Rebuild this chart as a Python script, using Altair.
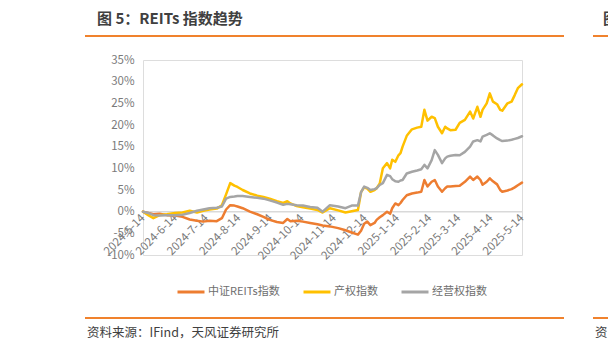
import altair as alt
import pandas as pd

# ---------------- data ----------------
dates = ["2024-05-14","2024-05-19","2024-05-24","2024-05-30","2024-06-06","2024-06-14","2024-06-21","2024-06-28","2024-07-05","2024-07-11",
         "2024-07-17","2024-07-24","2024-07-29","2024-08-02","2024-08-06","2024-08-10","2024-08-13","2024-08-18","2024-08-25","2024-09-01",
         "2024-09-07","2024-09-13","2024-09-20","2024-09-26","2024-09-30","2024-10-03","2024-10-09","2024-10-15","2024-10-22","2024-10-29",
         "2024-11-03","2024-11-10","2024-11-18","2024-11-25","2024-12-01","2024-12-07","2024-12-10","2024-12-13","2024-12-16","2024-12-19",
         "2024-12-23","2024-12-25","2024-12-28","2024-12-31","2025-01-04","2025-01-07","2025-01-09","2025-01-12","2025-01-15","2025-01-17",
         "2025-01-19","2025-01-23","2025-01-28","2025-02-02","2025-02-06","2025-02-09","2025-02-12","2025-02-16","2025-02-19","2025-02-22",
         "2025-02-26","2025-03-01","2025-03-03","2025-03-06","2025-03-11","2025-03-15","2025-03-20","2025-03-25","2025-03-28","2025-04-01",
         "2025-04-04","2025-04-06","2025-04-10","2025-04-13","2025-04-16","2025-04-20","2025-04-23","2025-04-25","2025-04-30","2025-05-04",
         "2025-05-07","2025-05-10","2025-05-14"]

reits = [0, -0.3, -0.6, -0.5, -0.8, -0.9, -1.2, -1.8, -2.1, -2.3,
         -2.1, -2.2, -1.5, 0.5, 1.5, 1.4, 1.2, 0.8, 0.0, -0.6,
         -1.2, -1.9, -2.4, -2.6, -1.7, -2.2, -2.1, -2.3, -2.6, -2.9,
         -3.2, -3.4, -3.8, -4.3, -4.8, -5.3, -4.4, -2.8, -2.3, -3.1,
         -2.6, -1.9, -1.3, -0.8, 0.0, -0.5, 0.8, 1.9, 1.5, 2.0,
         2.7, 3.8, 4.2, 4.4, 4.6, 7.3, 5.8, 6.9, 7.3, 5.8,
         4.6, 5.4, 5.8, 5.8, 5.9, 6.0, 6.9, 8.1, 7.3, 8.1,
         7.3, 6.2, 6.9, 7.7, 7.0, 6.3, 5.0, 4.6, 4.9, 5.2,
         5.6, 6.1, 6.7]

equity = [0, -0.8, -1.5, -0.8, -0.6, -0.3, -0.2, 0.2, -0.2, 0.2,
          0.5, 0.7, 1.5, 4.0, 6.6, 6.0, 5.7, 5.0, 4.2, 3.7,
          3.4, 3.0, 2.4, 2.0, 2.4, 1.9, 1.3, 1.0, 0.7, 0.4,
          -0.2, 0.8, 0.3, -0.2, 0.1, 0.4, 4.5, 5.6, 5.3, 4.6,
          5.0, 5.4, 6.5, 10.0, 11.2, 10.0, 12.0, 11.5, 13.0, 13.5,
          15.0, 17.5, 19.0, 19.4, 19.6, 23.5, 21.0, 21.9, 21.6, 19.6,
          18.1, 19.6, 19.2, 18.8, 18.9, 20.5, 21.2, 23.1, 21.5, 24.2,
          21.9, 23.5, 25.0, 27.3, 25.4, 24.8, 23.5, 23.3, 25.0, 25.4,
          26.9, 28.5, 29.4]

operating = [0, -0.3, -0.8, -0.9, -0.8, -0.8, -0.7, -0.3, 0.2, 0.5,
             0.8, 0.9, 1.2, 3.0, 3.4, 3.5, 3.6, 3.6, 3.4, 3.2,
             3.0, 2.6, 2.1, 1.6, 1.8, 1.7, 1.5, 1.4, 1.1, 0.9,
             0.0, 1.5, 1.2, 0.8, 1.4, 1.4, 4.5, 5.8, 5.5, 5.0,
             5.2, 5.4, 6.2, 6.6, 8.5, 8.2, 7.5, 7.0, 6.9, 7.2,
             7.3, 8.8, 9.2, 9.5, 9.8, 10.8, 10.0, 11.9, 14.2, 13.1,
             11.2, 12.3, 12.7, 12.9, 13.1, 13.0, 13.8, 15.0, 16.2, 16.5,
             16.2, 17.3, 17.7, 18.1, 17.6, 16.9, 16.5, 16.3, 16.4, 16.6,
             16.8, 17.0, 17.4]

series_names = ["中证REITs指数", "产权指数", "经营权指数"]
colors = ["#ED7D31", "#FFC000", "#A5A5A5"]
y_ticks = [-10, -5, 0, 5, 10, 15, 20, 25, 30, 35]
x_ticks = ["2024-05-14", "2024-06-14", "2024-07-14", "2024-08-14", "2024-09-14", "2024-10-14",
           "2024-11-14", "2024-12-14", "2025-01-14", "2025-02-14", "2025-03-14", "2025-04-14", "2025-05-14"]

title_text = "图 5：REITs 指数趋势"
source_text = "资料来源：IFind，天风证券研究所"

FONT = "Noto Sans CJK SC"
LABEL = "#7A7A7A"
LEGEND_LABEL = "#6E6E6E"
ORANGE_RULE = "#F0822D"

# ---------------- build ----------------
df = pd.DataFrame({"date": dates, series_names[0]: reits, series_names[1]: equity, series_names[2]: operating})
long = df.melt("date", var_name="series", value_name="value")


def dt(s):
    return alt.DateTime(year=int(s[:4]), month=int(s[5:7]), date=int(s[8:10]), utc=True)


x_enc = alt.X(
    "date:T",
    scale=alt.Scale(type="utc", domain=[dt(x_ticks[0]), dt(x_ticks[-1])]),
    axis=alt.Axis(values=[dt(s) for s in x_ticks],
                  labelExpr="utcFormat(datum.value, '%Y-%-m-%-d')",
                  labelAngle=-45, labelAlign="right", labelBaseline="middle", offset=-43,
                  domain=False, ticks=False, grid=False, labelPadding=4, labelFontSize=11.5,
                  labelColor=LABEL, labelOverlap=False, labelBound=False, title=None),
)
y_enc = alt.Y(
    "value:Q",
    scale=alt.Scale(domain=[-10, 35], nice=False),
    axis=alt.Axis(values=y_ticks, labelExpr="datum.value + '%'", domain=False, ticks=False,
                  grid=False, labelPadding=9, labelFontSize=11.5, labelColor=LABEL,
                  labelOverlap=False, title=None),
)

lines = alt.Chart(long).mark_line(strokeWidth=2.5, strokeJoin="round", strokeCap="round").encode(
    x=x_enc,
    y=y_enc,
    color=alt.Color("series:N", sort=series_names,
                    scale=alt.Scale(domain=series_names, range=colors),
                    legend=alt.Legend(title=None, orient="none", legendX=33, legendY=217,
                                      direction="horizontal", symbolType="stroke", symbolSize=729,
                                      symbolStrokeWidth=3, labelFontSize=11, labelColor=LEGEND_LABEL,
                                      labelFont=FONT, columnPadding=17, labelOffset=2)),
)

zero = alt.Chart(pd.DataFrame({"value": [0]})).mark_rule(color="#D9D9D9", strokeWidth=1.5).encode(y=y_enc)

one = pd.DataFrame({"k": [0]})

def hrule(x1, x2, y):
    return alt.Chart(one).mark_rule(color=ORANGE_RULE, strokeWidth=2).encode(
        x=alt.value(x1), x2=alt.value(x2), y=alt.value(y))

def label(txt, x, y, size, color, weight="normal"):
    return alt.Chart(pd.DataFrame({"t": [txt]})).mark_text(
        align="left", baseline="middle", fontSize=size, color=color, fontWeight=weight, font=FONT
    ).encode(x=alt.value(x), y=alt.value(y), text="t:N")

chart = alt.layer(
    zero,
    lines,
    hrule(-58, 421, -24),
    hrule(450, 470, -24),
    hrule(-58, 421, 258),
    hrule(450, 470, 258),
    label(title_text, -46, -41, 15, "#404040", "bold"),
    label("图", 460, -41, 15, "#404040", "bold"),
    label(source_text, -56, 273, 12.5, "#404040"),
    label("资", 452, 273, 12.5, "#404040"),
).properties(
    width=379, height=195,
    autosize=alt.AutoSizeParams(type="none"),
    padding={"left": 143, "top": 60, "right": 86, "bottom": 98},
    background="white",
).configure_view(stroke=None).configure(font=FONT)

chart.save("out.html", embed_options={"renderer": "svg", "actions": False})
